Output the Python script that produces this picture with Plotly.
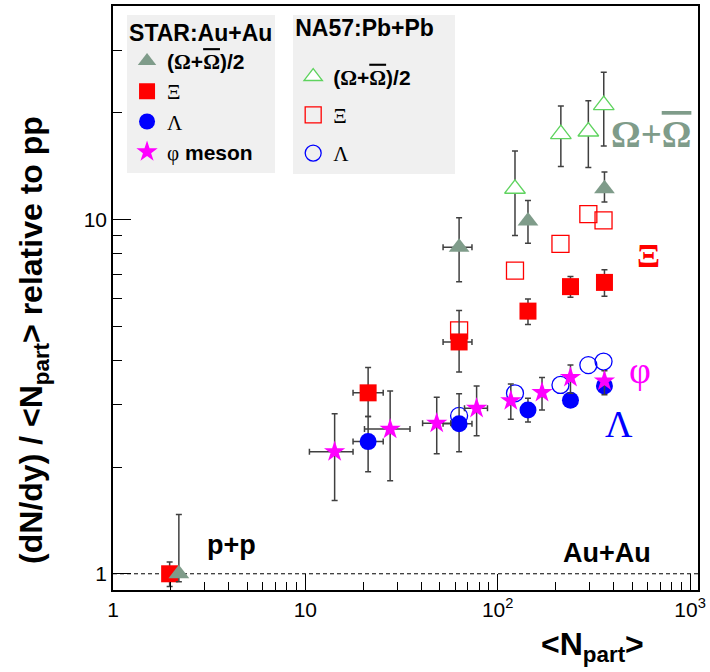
import math
import plotly.graph_objects as go

# ---------------- data ----------------
# STAR Au+Au : (Omega + anti-Omega)/2
star_om_x = [2.2, 63, 143.7, 359]
star_om_y = [1.0, 8.34, 9.9, 12.2]
star_om_ep = [0.47, 1.76, 1.4, 1.4]
star_om_em = [0.05, 1.67, 1.34, 1.0]
star_om_xep = [0, 10.5, 4, 0]
star_om_xem = [0, 11, 4, 0]

# STAR Au+Au : Xi
star_xi_x = [1.97, 21.2, 63, 143.7, 239, 359]
star_xi_y = [1.0, 3.24, 4.51, 5.51, 6.46, 6.64]
star_xi_ep = [0.08, 0.58, 1.02, 0.45, 0.44, 0.57]
star_xi_em = [0.08, 0.46, 0.80, 0.46, 0.43, 0.57]
star_xi_xep = [0, 4.2, 10.5, 0, 0, 0]
star_xi_xem = [0, 3.5, 11, 0, 0, 0]

# STAR Au+Au : Lambda
star_la_x = [21.2, 63, 143.7, 239, 359]
star_la_y = [2.36, 2.65, 2.9, 3.09, 3.39]
star_la_ep = [0.42, 0.57, 0.23, 0.10, 0.12]
star_la_em = [0.42, 0.44, 0.22, 0.10, 0.12]
star_la_xep = [4.2, 10.5, 0, 0, 0]
star_la_xem = [3.5, 11, 0, 0, 0]

# STAR Au+Au : phi meson
star_phi_x = [14.2, 27.6, 48.2, 77.7, 117, 170, 239, 359]
star_phi_y = [2.21, 2.56, 2.66, 2.93, 3.08, 3.25, 3.58, 3.50]
star_phi_ep = [0.62, 0.72, 0.49, 0.46, 0.35, 0.33, 0.30, 0.24]
star_phi_em = [0.60, 0.73, 0.48, 0.48, 0.35, 0.35, 0.35, 0.30]
star_phi_xep = [3.5, 7.4, 8.8, 10.8, 0, 0, 0, 0]
star_phi_xem = [3.7, 7.3, 7.5, 10.5, 0, 0, 0, 0]

# NA57 Pb+Pb : (Omega + anti-Omega)/2
na_om_x = [123, 213, 296, 356]
na_om_y = [12.2, 17.4, 17.7, 21.0]
na_om_ep = [3.4, 3.5, 3.9, 5.0]
na_om_em = [3.2, 3.3, 3.7, 4.9]

# NA57 Pb+Pb : Xi (error bars smaller than the markers)
na_xi_x = [63, 123, 212, 296, 355]
na_xi_y = [4.86, 7.17, 8.53, 10.35, 9.94]

# NA57 Pb+Pb : Lambda (error bars smaller than the markers)
na_la_x = [63, 123, 212, 296, 355]
na_la_y = [2.79, 3.23, 3.41, 3.88, 3.97]

# pp reference level and axis ranges
PP_REF = 1.0
X_MIN, X_MAX = 1.0, 1100.0
Y_MIN, Y_MAX = 0.9, 40.0

x_tickvals = [1, 10, 100, 1000]
x_ticktext = ["1", "10", "10<sup>2</sup>", "10<sup>3</sup>"]
x_minor = [2, 3, 4, 5, 6, 7, 8, 9, 20, 30, 40, 50, 60, 70, 80, 90,
           200, 300, 400, 500, 600, 700, 800, 900]
y_tickvals = [1, 10]
y_ticktext = ["1", "10"]
y_minor = [2, 3, 4, 5, 6, 7, 8, 9, 20, 30]

# ---------------- styles ----------------
C_OM = "#7f9c8a"
C_OM_OPEN = "#5fd35f"
C_XI = "#ff0000"
C_LA = "#0000ff"
C_PHI = "#ff00ff"
ERR_C = "#404040"
SANS = "Liberation Sans, Arial, sans-serif"
SERIF = "Liberation Serif, Times New Roman, serif"


def err(plus, minus=None):
    d = dict(type="data", array=plus, color=ERR_C, thickness=1.5, width=3)
    if minus is not None:
        d.update(symmetric=False, arrayminus=minus)
    return d


def sf(t):
    return f"<span style='font-family:{SERIF}'>{t}</span>"


def sfbar(t):
    return f"<span style='font-family:{SERIF};text-decoration:overline'>{t}</span>"


OMEGA_LABEL = f"<b>({sf('Ω')}+{sfbar('Ω')})/2</b>"

fig = go.Figure()

# pp reference dashed line
fig.add_trace(go.Scatter(x=[X_MIN, X_MAX], y=[PP_REF, PP_REF], mode="lines",
                         line=dict(color="black", width=1, dash="4px,3px"),
                         showlegend=False, hoverinfo="skip"))

# NA57 (open markers) – drawn first
fig.add_trace(go.Scatter(
    x=na_om_x, y=na_om_y, mode="markers", name=OMEGA_LABEL,
    marker=dict(symbol="triangle-up", size=18, color="white",
                line=dict(width=1.3, color=C_OM_OPEN)),
    error_y=err(na_om_ep, na_om_em), legend="legend2", legendgroup="n1", legendrank=1))
fig.add_trace(go.Scatter(
    x=na_xi_x, y=na_xi_y, mode="markers", name=sf("Ξ"),
    marker=dict(symbol="square-open", size=17, color=C_XI, line=dict(width=1.3)),
    legend="legend2", legendgroup="n2", legendrank=2))
fig.add_trace(go.Scatter(
    x=na_la_x, y=na_la_y, mode="markers", name=sf("Λ"),
    marker=dict(symbol="circle-open", size=17, color=C_LA, line=dict(width=1.3)),
    legend="legend2", legendgroup="n3", legendrank=3))

# STAR (filled markers)
fig.add_trace(go.Scatter(
    x=star_xi_x, y=star_xi_y, mode="markers", name=sf("Ξ"),
    marker=dict(symbol="square", size=17, color=C_XI),
    error_y=err(star_xi_ep, star_xi_em), error_x=err(star_xi_xep, star_xi_xem),
    legend="legend", legendgroup="s2", legendrank=2))
fig.add_trace(go.Scatter(
    x=star_la_x, y=star_la_y, mode="markers", name=sf("Λ"),
    marker=dict(symbol="circle", size=17, color=C_LA),
    error_y=err(star_la_ep, star_la_em), error_x=err(star_la_xep, star_la_xem),
    legend="legend", legendgroup="s3", legendrank=3))
fig.add_trace(go.Scatter(
    x=star_phi_x, y=star_phi_y, mode="markers", name=sf("φ") + " <b>meson</b>",
    marker=dict(symbol="star", size=16, color=C_PHI),
    error_y=err(star_phi_ep, star_phi_em), error_x=err(star_phi_xep, star_phi_xem),
    legend="legend", legendgroup="s4", legendrank=4))
fig.add_trace(go.Scatter(
    x=star_om_x, y=star_om_y, mode="markers", name=OMEGA_LABEL,
    marker=dict(symbol="triangle-up", size=18, color=C_OM),
    error_y=err(star_om_ep, star_om_em), error_x=err(star_om_xep, star_om_xem),
    legend="legend", legendgroup="s1", legendrank=1))

axis_common = dict(type="log", showline=True, linecolor="black", linewidth=1.5,
                   mirror=True, ticks="inside", tickcolor="black", tickwidth=1,
                   showgrid=False, zeroline=False,
                   tickfont=dict(family=SANS, size=21, color="black"))

LEG_FONT = dict(family=SANS, size=21, color="black")
fig.update_layout(
    width=710, height=672,
    margin=dict(l=113, r=10, t=4, b=82),
    paper_bgcolor="white", plot_bgcolor="white",
    xaxis=dict(axis_common, range=[math.log10(X_MIN), math.log10(X_MAX)],
               tickmode="array", tickvals=x_tickvals, ticktext=x_ticktext, ticklen=16,
               minor=dict(tickmode="array", tickvals=x_minor, ticks="inside", ticklen=8,
                          tickcolor="black", tickwidth=1, showgrid=False)),
    yaxis=dict(axis_common, range=[math.log10(Y_MIN), math.log10(Y_MAX)],
               tickmode="array", tickvals=y_tickvals, ticktext=y_ticktext, ticklen=18,
               minor=dict(tickmode="array", tickvals=y_minor, ticks="inside", ticklen=9,
                          tickcolor="black", tickwidth=1, showgrid=False)),
    legend=dict(x=0.024, y=0.985, xanchor="left", yanchor="top",
                bgcolor="#f0f0f0", borderwidth=0, tracegroupgap=0,
                font=LEG_FONT,
                title=dict(text="<span style='font-size:23px'><b>STAR:Au+Au</b></span>",
                           font=dict(family=SANS, size=20))),
    legend2=dict(x=0.308, y=0.985, xanchor="left", yanchor="top",
                 bgcolor="#f0f0f0", borderwidth=0, tracegroupgap=8,
                 font=LEG_FONT,
                 title=dict(text="<span style='font-size:23px'><b>NA57:Pb+Pb</b>&nbsp;&nbsp;&nbsp;</span><br> ",
                            font=dict(family=SANS, size=16))),
)

ann = []
# axis titles
ann.append(dict(text="<b>(dN/dy) / &lt;N<sub>part</sub>&gt; relative to pp</b>",
                xref="paper", yref="paper", x=-0.137, y=0.428, textangle=-90,
                showarrow=False, xanchor="center", yanchor="middle",
                font=dict(family=SANS, size=32, color="black")))
ann.append(dict(text="<b>&lt;N<sub>part</sub>&gt;</b>", xref="paper", yref="paper",
                x=0.82, y=-0.097, showarrow=False, xanchor="center", yanchor="middle",
                font=dict(family=SANS, size=32, color="black")))
# in-plot labels
ann.append(dict(text="<b>p+p</b>", xref="paper", yref="paper", x=0.203, y=0.077,
                showarrow=False, xanchor="center", yanchor="middle",
                font=dict(family=SANS, size=27, color="black")))
ann.append(dict(text="<b>Au+Au</b>", xref="paper", yref="paper", x=0.845, y=0.063,
                showarrow=False, xanchor="center", yanchor="middle",
                font=dict(family=SANS, size=27, color="black")))
ann.append(dict(text=f"<b>Ω+<span style='text-decoration:overline'>Ω</span></b>",
                xref="paper", yref="paper", x=0.92, y=0.78,
                showarrow=False, xanchor="center", yanchor="middle",
                font=dict(family=SERIF, size=37, color=C_OM)))
ann.append(dict(text="<b>Ξ</b>", xref="paper", yref="paper", x=0.915, y=0.572,
                showarrow=False, xanchor="center", yanchor="middle",
                font=dict(family=SERIF, size=34, color=C_XI)))
ann.append(dict(text="φ", xref="paper", yref="paper", x=0.901, y=0.377,
                showarrow=False, xanchor="center", yanchor="middle",
                font=dict(family=SERIF, size=38, color=C_PHI)))
ann.append(dict(text="Λ", xref="paper", yref="paper", x=0.865, y=0.285,
                showarrow=False, xanchor="center", yanchor="middle",
                font=dict(family=SERIF, size=38, color=C_LA)))
fig.update_layout(annotations=ann)

fig.write_html("out.html", config={"displayModeBar": False},
               post_script="document.body.style.margin='0px';")
